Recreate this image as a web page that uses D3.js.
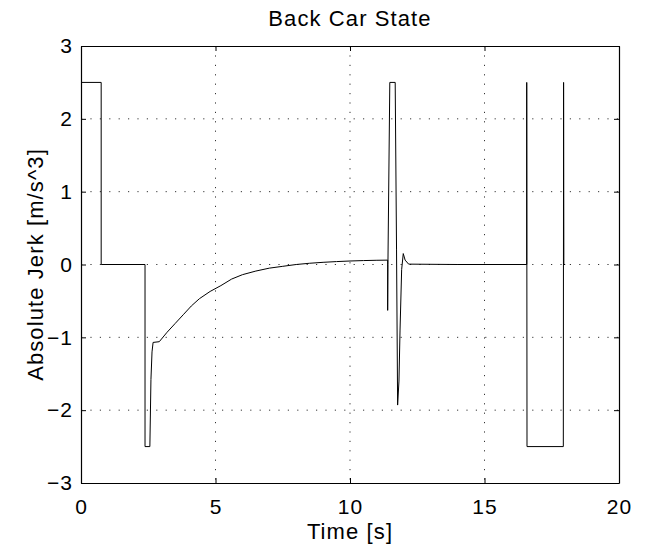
<!DOCTYPE html>
<html>
<head>
<meta charset="utf-8">
<script src="https://cdn.jsdelivr.net/npm/d3@7"></script>
<style>
  body { margin: 0; background: white; }
  text { font-family: "Liberation Sans", Arial, Helvetica, sans-serif; fill: black; }
</style>
</head>
<body>
<div id="chart"></div>
<script>
// time [s] and jerk [m/s^3]
const time = [0, 0.75, 0.75, 2.38, 2.38, 2.56, 2.60, 2.64, 2.68, 2.91, 3.2, 3.5, 3.8, 4.1, 4.4, 4.8, 5.2, 5.6, 6.0, 6.5, 7.0, 7.5, 8.0, 8.5, 9.0, 9.5, 10.0, 10.5, 11.0, 11.40,
  11.40, 11.41, 11.48, 11.68, 11.73, 11.77, 11.82, 11.86, 11.92, 11.98, 12.05, 12.18, 14.0, 16.57,
  16.57, 16.58, 17.93, 17.94, 17.95, 18.0]
const jerk = [2.5, 2.5, 0, 0, -2.5, -2.5, -1.58, -1.2, -1.07, -1.06, -0.93, -0.81, -0.69, -0.57, -0.47, -0.37, -0.29, -0.20, -0.14, -0.09, -0.05, -0.025, 0.0, 0.017, 0.03, 0.04, 0.048, 0.054, 0.058, 0.06,
  -0.63, 0.0, 2.5, 2.5, 0.2, -1.93, -1.6, -0.9, -0.07, 0.15, 0.06, 0.005, 0.0, 0.0,
  2.5, -2.5, -2.5, 2.5, 0.0, 0.0]

const xTicks = [0, 5, 10, 15, 20]
const yTicks = [-3, -2, -1, 0, 1, 2, 3]

const title = "Back Car State"
const xLabel = "Time [s]"
const yLabel = "Absolute Jerk [m/s^3]"

const data = time.map((t,i)=>({t:t, v:jerk[i]}))

const margin = {top:46,right:30,bottom:71,left:81}
const width = 649 - margin.left - margin.right
const height = 554 - margin.top - margin.bottom

const svg = d3.select("#chart")
  .append("svg")
  .attr("width",649)
  .attr("height",554)

const g = svg.append("g")
  .attr("transform",`translate(${margin.left},${margin.top})`)

// scales
const x = d3.scaleLinear().domain([0,20]).range([0,width])
const y = d3.scaleLinear().domain([-3,3]).range([height,0])

// grid
g.append("g")
  .selectAll("line")
  .data(xTicks.slice(1,-1))
  .join("line")
  .attr("x1",d=>x(d)).attr("x2",d=>x(d))
  .attr("y1",0).attr("y2",height)
  .attr("stroke","#000")
  .attr("stroke-width",0.8)
  .attr("stroke-dasharray","1.2,8.2")

g.append("g")
  .selectAll("line")
  .data(yTicks.slice(1,-1))
  .join("line")
  .attr("y1",d=>y(d)).attr("y2",d=>y(d))
  .attr("x1",0).attr("x2",width)
  .attr("stroke","#000")
  .attr("stroke-width",0.8)
  .attr("stroke-dasharray","1.2,8.2")

// axes, ticks inside on all four sides
const fs = "21px"
const xb = g.append("g")
  .attr("transform",`translate(0,${height})`)
  .call(d3.axisBottom(x).tickValues(xTicks).tickSizeInner(-5).tickSizeOuter(0).tickPadding(16))
const xt = g.append("g")
  .call(d3.axisTop(x).tickValues(xTicks).tickSizeInner(-5).tickSizeOuter(0).tickFormat(""))
const yl = g.append("g")
  .call(d3.axisLeft(y).tickValues(yTicks).tickSizeInner(-5).tickSizeOuter(0).tickPadding(8).tickFormat(d=>d<0 ? "\u2212"+Math.abs(d) : d))
const yr = g.append("g")
  .attr("transform",`translate(${width},0)`)
  .call(d3.axisRight(y).tickValues(yTicks).tickSizeInner(-5).tickSizeOuter(0).tickFormat(""))

;[xb,xt,yl,yr].forEach(a=>{
  a.select(".domain").attr("stroke","#000").attr("stroke-width",1.2)
  a.selectAll(".tick line").attr("stroke","#000")
  a.selectAll("text")
    .style("font-size",fs)
    .style("letter-spacing","1px")
    .style("font-family","'Liberation Sans', Arial, sans-serif")
})

// line
const line = d3.line()
  .x(d=>x(d.t))
  .y(d=>y(d.v))

g.append("path")
  .datum(data)
  .attr("fill","none")
  .attr("stroke","#000")
  .attr("stroke-width",1)
  .attr("d",line)

// labels
svg.append("text")
  .attr("x",margin.left + width/2)
  .attr("y",26)
  .attr("text-anchor","middle")
  .style("font-size","22px")
  .style("letter-spacing","1.1px")
  .text(title)

svg.append("text")
  .attr("x",margin.left + width/2)
  .attr("y",539)
  .attr("text-anchor","middle")
  .style("font-size","22px")
  .style("letter-spacing","1.1px")
  .text(xLabel)

svg.append("text")
  .attr("transform",`translate(43,${margin.top + height/2}) rotate(-90)`)
  .attr("text-anchor","middle")
  .style("font-size","22px")
  .style("letter-spacing","1.1px")
  .text(yLabel)
</script>
</body>
</html>
